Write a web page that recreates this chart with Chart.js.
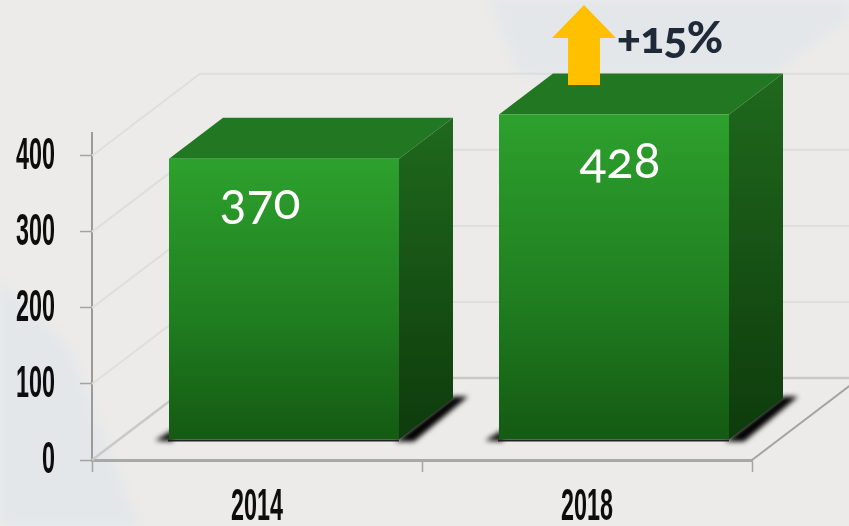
<!DOCTYPE html>
<html>
<head>
<meta charset="utf-8">
<title>Chart</title>
<script src="https://cdn.jsdelivr.net/npm/chart.js@4"></script>
<style>
  html, body { margin: 0; padding: 0; }
  #stage { position: relative; width: 849px; height: 526px; overflow: hidden; background: #ecebe9; }
  .patch { position: absolute; left: 0; top: 0; width: 849px; height: 526px; filter: blur(5px); }
  .patch div { width: 100%; height: 100%; background: #e3e7ea; }
  #patchTop div { clip-path: polygon(482px -20px, 869px -20px, 869px 5px, 770px 76px, 520px 76px); }
  #patchLeft div { clip-path: polygon(-20px 262px, 70px 349px, 146px 546px, -20px 546px); }
  #chartBars { position: absolute; left: 0; top: 0; }
  .valueLabel { position: absolute; color: #fff; font: 400 50px "Lato", sans-serif; font-variant-numeric: oldstyle-nums; font-feature-settings: "onum" 1; transform: translate(-50%, -50%); white-space: nowrap; }
  #changeLabel { position: absolute; left: 617px; top: 10px; color: #1f2937; font: 900 44px "Lato", sans-serif; letter-spacing: -0.5px; font-variant-numeric: oldstyle-nums; font-feature-settings: "onum" 1; white-space: nowrap; }
</style>
</head>
<body>
<div id="stage">
  <div class="patch" id="patchTop"><div></div></div>
  <div class="patch" id="patchLeft"><div></div></div>
  <canvas id="chartBars" width="849" height="526"></canvas>
  <div id="changeLabel">+15%</div>
</div>
<script>
const years = ["2014", "2018"];
const values = [370, 428];
const yTicks = [0, 100, 200, 300, 400];
const yMax = 430;

// 3d look
const depthX = 54;
const depthY = 41;
const shiftX = 27; // front face sits a bit into the floor
const shiftY = 20;
const wallX = 108;
const wallY = 82;

function condensedText(ctx, text, x, y, align) {
  ctx.save();
  ctx.translate(x, y);
  ctx.scale(0.53, 1);
  ctx.font = 'bold 44px "Liberation Sans", sans-serif';
  ctx.fillStyle = "#0d0d0d";
  ctx.textAlign = align;
  ctx.textBaseline = "middle";
  ctx.fillText(text, 0, 0);
  ctx.restore();
}

function poly(ctx, pts, fill) {
  ctx.beginPath();
  pts.forEach((p, i) => (i ? ctx.lineTo(p[0], p[1]) : ctx.moveTo(p[0], p[1])));
  ctx.closePath();
  ctx.fillStyle = fill;
  ctx.fill();
}

const walls = {
  id: "walls",
  beforeDatasetsDraw(chart) {
    const { ctx, chartArea, scales } = chart;
    const left = chartArea.left;
    const right = chartArea.right;
    ctx.save();
    yTicks.forEach((t) => {
      const y = scales.y.getPixelForValue(t);
      ctx.beginPath();
      ctx.moveTo(left, y);
      ctx.lineTo(left + wallX, y - wallY);
      ctx.lineTo(right + wallX, y - wallY);
      ctx.strokeStyle = t === 0 ? "#c9c9c7" : "#dededc";
      ctx.lineWidth = t === 0 ? 2.5 : 2;
      ctx.stroke();
    });
    // right edge of the floor
    const y0 = scales.y.getPixelForValue(0);
    ctx.beginPath();
    ctx.moveTo(right, y0);
    ctx.lineTo(right + wallX, y0 - wallY);
    ctx.strokeStyle = "#a3a3a1";
    ctx.lineWidth = 2;
    ctx.stroke();
    ctx.restore();
  },
};

const box = {
  id: "box",
  beforeDatasetDraw(chart, args) {
    const { ctx } = chart;
    const gradSide = (top, bottom) => {
      const g = ctx.createLinearGradient(0, top, 0, bottom);
      g.addColorStop(0, "#1f691d");
      g.addColorStop(1, "#0e3b0c");
      return g;
    };
    args.meta.data.forEach((bar) => {
      const l = bar.x - bar.width / 2 + shiftX;
      const r = bar.x + bar.width / 2 + shiftX;
      const t = bar.y - shiftY;
      const b = bar.base - shiftY;
      // shadow on the floor
      ctx.save();
      ctx.filter = "blur(2.5px)";
      poly(ctx, [[r - 4, b + 2], [r + depthX, b - depthY - 2], [r + depthX + 15, b - depthY - 2], [r + 15, b + 2]], "#000");
      poly(ctx, [[l - 14, b + 1], [l + 4, b - 10], [l + 4, b + 2]], "#111");
      ctx.restore();
      poly(ctx, [[l - 1, b], [r, b], [r, b + 2], [l - 1, b + 2]], "#222");
      // top and side faces
      poly(ctx, [[l, t], [r, t], [r + depthX, t - depthY], [l + depthX, t - depthY]], "#227822");
      poly(ctx, [[r, t], [r + depthX, t - depthY], [r + depthX, b - depthY], [r, b]], gradSide(t - depthY, b));
    });
    ctx.save();
    ctx.translate(shiftX, -shiftY);
  },
  afterDatasetDraw(chart) {
    chart.ctx.restore();
  },
  afterDatasetsDraw(chart) {
    const { ctx, scales } = chart;
    // arrow above the 2018 bar
    const cx = scales.x.getPixelForValue(1) - 3;
    poly(ctx, [[cx, 5], [cx + 32, 38], [cx + 16, 38], [cx + 16, 85], [cx - 16, 85], [cx - 16, 38], [cx - 32, 38]], "#ffc000");
    // axis labels, squeezed by hand since there is no condensed font installed
    yTicks.forEach((t) => condensedText(ctx, String(t), 55, scales.y.getPixelForValue(t) + 1, "right"));
    years.forEach((year, i) => condensedText(ctx, year, scales.x.getPixelForValue(i), 508, "center"));
  },
};

const chart = new Chart(document.getElementById("chartBars"), {
  type: "bar",
  data: {
    labels: years,
    datasets: [{
      data: values,
      clip: false,
      barPercentage: 0.697,
      categoryPercentage: 1,
      borderWidth: 0,
      backgroundColor(context) {
        const c = context.chart;
        if (!c.chartArea) return "#2ca02c";
        const y = c.scales.y;
        const top = y.getPixelForValue(context.raw);
        const g = c.ctx.createLinearGradient(0, top, 0, y.getPixelForValue(0));
        g.addColorStop(0, "#2da12d");
        g.addColorStop(0.55, "#207f20");
        g.addColorStop(1, "#145a13");
        return g;
      },
    }],
  },
  options: {
    responsive: false,
    animation: false,
    devicePixelRatio: 1,
    layout: { padding: { top: 133, right: 97 } },
    plugins: { legend: { display: false }, tooltip: { enabled: false } },
    scales: {
      x: {
        afterFit(axis) { axis.height = 66; },
        grid: { drawOnChartArea: false, tickLength: 12, tickColor: "#a3a3a1", tickWidth: 1.5 },
        border: { color: "#a8a8a6", width: 3 },
        ticks: { display: false },
      },
      y: {
        min: 0,
        max: yMax,
        afterBuildTicks(axis) { axis.ticks = yTicks.map((v) => ({ value: v })); },
        afterFit(axis) { axis.width = 92; },
        grid: { drawOnChartArea: false, tickLength: 12, tickColor: "#a3a3a1", tickWidth: 1.5 },
        border: { color: "#9a9a98", width: 2 },
        ticks: { display: false },
      },
    },
  },
  plugins: [walls, box],
});

// value labels as html so old-style figures can be used
const labelNudge = [[-24, 41], [6, 44]];
chart.getDatasetMeta(0).data.forEach((bar, i) => {
  const el = document.createElement("div");
  el.className = "valueLabel";
  el.textContent = String(values[i]);
  el.style.left = bar.x + shiftX + labelNudge[i][0] + "px";
  el.style.top = bar.y - shiftY + labelNudge[i][1] + "px";
  document.getElementById("stage").appendChild(el);
});
</script>
</body>
</html>
